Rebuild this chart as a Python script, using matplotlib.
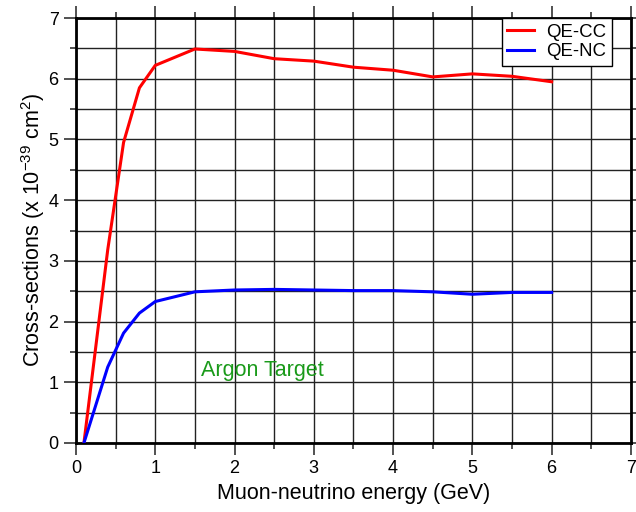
import matplotlib
matplotlib.use("Agg")
import matplotlib.pyplot as plt
from matplotlib.ticker import MultipleLocator

plt.rcParams["font.family"] = ["Liberation Sans", "DejaVu Sans"]
plt.rcParams["mathtext.fontset"] = "custom"
plt.rcParams["mathtext.rm"] = "Liberation Sans"
plt.rcParams["mathtext.it"] = "Liberation Sans"

# energies (GeV) and cross-sections (1e-39 cm^2)
energy = [0.1, 0.4, 0.6, 0.8, 1.0, 1.5, 2.0, 2.5, 3.0, 3.5, 4.0, 4.5, 5.0, 5.5, 6.0]
qe_cc = [0.0, 3.18, 4.95, 5.85, 6.22, 6.49, 6.45, 6.33, 6.29, 6.19, 6.14, 6.03, 6.08, 6.04, 5.95]
qe_nc = [0.0, 1.25, 1.81, 2.14, 2.33, 2.49, 2.52, 2.53, 2.52, 2.51, 2.51, 2.49, 2.45, 2.48, 2.48]

fig = plt.figure(figsize=(6.36, 5.12), dpi=100)
ax = fig.add_axes([0.1195, 0.1348, 0.8725, 0.83])

ax.plot(energy, qe_cc, color="red", lw=2.2, label="QE-CC", zorder=3)
ax.plot(energy, qe_nc, color="blue", lw=2.2, label="QE-NC", zorder=3)

ax.set_xlim(0, 7)
ax.set_ylim(0, 7)
ax.xaxis.set_major_locator(MultipleLocator(1))
ax.xaxis.set_minor_locator(MultipleLocator(0.5))
ax.yaxis.set_major_locator(MultipleLocator(1))
ax.yaxis.set_minor_locator(MultipleLocator(0.5))
ax.grid(which="both", color="#222222", lw=1.0, zorder=1)
ax.set_axisbelow(True)

ax.tick_params(which="major", length=8.6, width=1.2, labelsize=13, color="#333333",
               top=True, right=True)
ax.tick_params(which="minor", length=4.5, width=1.2, color="#333333", top=True, right=True)
ax.tick_params(axis="x", which="major", pad=4)
ax.tick_params(axis="y", which="major", pad=4)
for s in ax.spines.values():
    s.set_linewidth(2)

ax.set_xlabel("Muon-neutrino energy (GeV)", fontsize=15.5, labelpad=4)
ax.set_ylabel(r"Cross-sections (x 10$^{-39}$ cm$^{2}$)", fontsize=15.5, labelpad=1)

ax.text(1.58, 1.2, "Argon Target", color="#1a9a1a", fontsize=15.5, va="center")

leg = ax.legend(loc="upper right", bbox_to_anchor=(0.9658, 1.0), fontsize=13.4,
                frameon=True, fancybox=False, edgecolor="black", framealpha=1,
                borderaxespad=0, handlelength=1.45, borderpad=0.3, labelspacing=0.15,
                handletextpad=0.65)
leg.get_frame().set_linewidth(1)
leg.set_zorder(5)

fig.savefig("out.png", dpi=100, facecolor="white")
